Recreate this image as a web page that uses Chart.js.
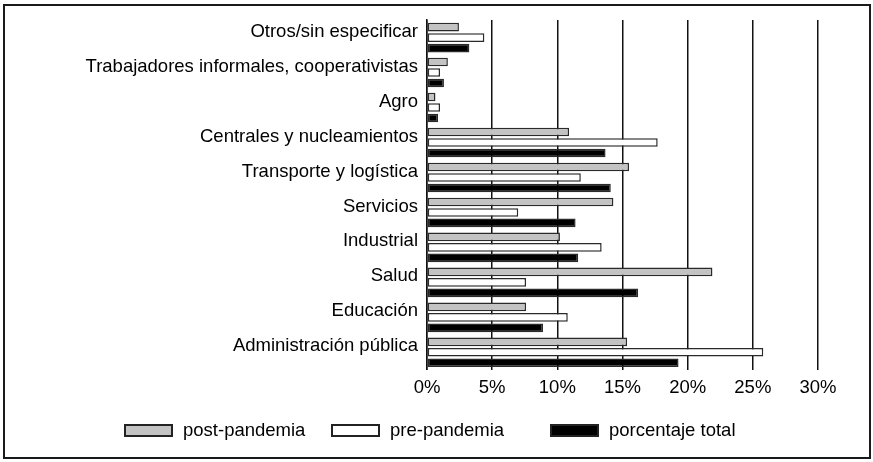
<!DOCTYPE html>
<html>
<head>
<meta charset="utf-8">
<script src="https://cdn.jsdelivr.net/npm/chart.js@4/dist/chart.umd.min.js"></script>
<style>
    html, body { margin: 0; padding: 0; background: #fff; }
    #wrap { position: relative; width: 873px; height: 462px; font-family: 'Liberation Sans', Arial, sans-serif; }
    #frame {
        position: absolute; left: 3px; top: 4px; width: 864px; height: 451px;
        border: 2px solid #1a1a1a; pointer-events: none;
    }
    .leg { position: absolute; top: 421px; height: 18px; display: flex; align-items: center; font-size: 18.5px; color: #000; white-space: nowrap; }
    .leg .box { width: 45px; height: 9px; border: 2px solid #222; margin-right: 10px; }
</style>
</head>
<body>
<div id="wrap">
    <canvas id="chart" width="873" height="462"></canvas>
    <div id="legend"></div>
    <div id="frame"></div>
</div>
<script>
// DATA
const categories = [
    'Otros/sin especificar',
    'Trabajadores informales, cooperativistas',
    'Agro',
    'Centrales y nucleamientos',
    'Transporte y logística',
    'Servicios',
    'Industrial',
    'Salud',
    'Educación',
    'Administración pública',
]
const postPandemia = [2.45, 1.6, 0.65, 10.9, 15.5, 14.3, 10.2, 21.9, 7.6, 15.35]
const prePandemia = [4.4, 1.0, 1.0, 17.7, 11.8, 7.0, 13.4, 7.6, 10.8, 25.8]
const porcentajeTotal = [3.25, 1.3, 0.85, 13.7, 14.1, 11.4, 11.6, 16.2, 8.9, 19.3]
const xTicks = [0, 5, 10, 15, 20, 25, 30]

const font = { family: "'Liberation Sans', Arial, sans-serif", size: 18.5 }

const ds = (label, data, fill) => ({
    label, data,
    backgroundColor: fill,
    borderColor: '#2a2a2a',
    borderWidth: 1.5,
    borderSkipped: false,
    categoryPercentage: 0.9,
    barPercentage: 0.82,
})

// CHART
const ctx = document.getElementById('chart').getContext('2d')
window.chart = new Chart(ctx, {
    type: 'bar',
    data: {
        labels: categories,
        datasets: [
            ds('post-pandemia', postPandemia, '#c3c3c3'),
            ds('pre-pandemia', prePandemia, '#ffffff'),
            ds('porcentaje total', porcentajeTotal, '#000000'),
        ]
    },
    options: {
        indexAxis: 'y',
        responsive: false,
        animation: false,
        layout: { padding: { top: 13, right: 55, left: 0, bottom: 56 } },
        scales: {
            x: {
                min: 0, max: 30,
                afterBuildTicks: (scale) => { scale.ticks = xTicks.map(v => ({ value: v })) },
                grid: { color: '#111', lineWidth: 1.5, drawTicks: false },
                border: { display: false },
                ticks: { color: '#000', font, padding: 7, callback: v => v + '%' },
            },
            y: {
                afterFit: (scale) => { scale.width = 427 },
                grid: { display: false, drawTicks: false },
                border: { display: true, color: '#111', width: 1.5 },
                ticks: { color: '#000', font, padding: 9, labelOffset: -6, autoSkip: false },
            }
        },
        plugins: {
            tooltip: { enabled: false },
            legend: { display: false },
        },
    }
})

// LEGEND (html, items placed like the original)
const legendLeft = [124, 331, 550]
const legendEl = document.getElementById('legend')
chart.data.datasets.forEach((d, i) => {
    const item = document.createElement('div')
    item.className = 'leg'
    item.style.left = legendLeft[i] + 'px'
    item.innerHTML = `<span class="box" style="background:${d.backgroundColor}"></span>${d.label}`
    legendEl.appendChild(item)
})
</script>
</body>
</html>
